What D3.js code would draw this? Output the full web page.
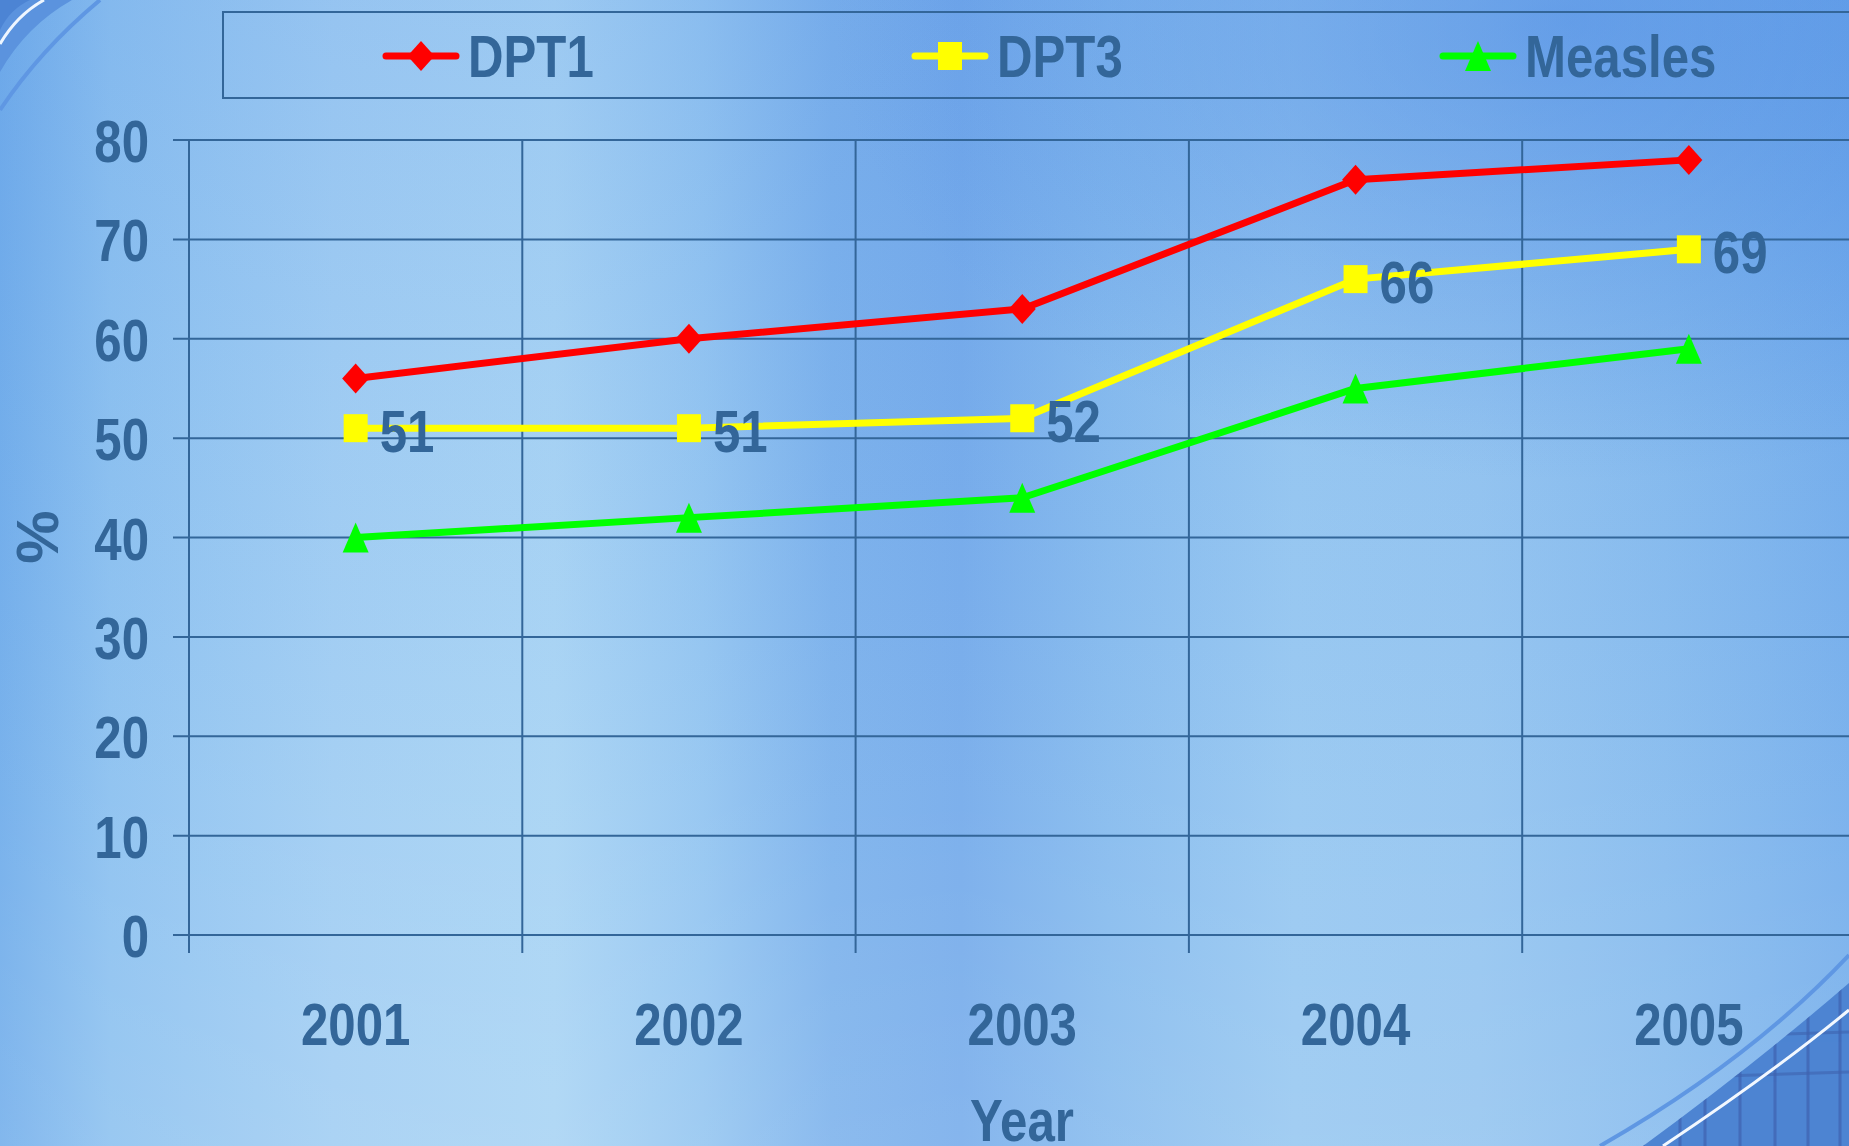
<!DOCTYPE html>
<html>
<head>
<meta charset="utf-8">
<script src="https://cdn.jsdelivr.net/npm/d3@7"></script>
<style>
html,body{margin:0;padding:0;overflow:hidden;background:#8fc2f0;}
svg text{font-family:"Liberation Sans Narrow","Arial Narrow","Liberation Sans",Arial,sans-serif;font-weight:bold;fill:#336699;}
</style>
</head>
<body>
<svg id="chart" width="1849" height="1146"></svg>
<script>
const years = ["2001","2002","2003","2004","2005"];
const dpt1 = [56, 60, 63, 76, 78];
const dpt3 = [51, 51, 52, 66, 69];
const measles = [40, 42, 44, 55, 59];
const yTicks = [0,10,20,30,40,50,60,70,80];
const seriesNames = ["DPT1","DPT3","Measles"];
const seriesColors = ["#ff0000","#ffff00","#00ff00"];
const seriesData = [dpt1, dpt3, measles];
const seriesShapes = ["diamond","square","triangle"];

const W = 1849, H = 1146;
const SX = 0.82; // horizontal condensing to mimic a narrow bold face
const svg = d3.select("#chart");
const defs = svg.append("defs");

// Background
const bg = defs.append("linearGradient").attr("id","bgH").attr("x1","0").attr("x2","1").attr("y1","0").attr("y2","0");
[[0,"#74afeb"],[0.06,"#8ec2f0"],[0.18,"#a2cef3"],[0.3,"#a9d4f4"],[0.38,"#95c6f1"],[0.45,"#7eb3ec"],[0.52,"#78adeb"],[0.6,"#88bcee"],[0.7,"#98c8f1"],[0.8,"#95c5f0"],[0.9,"#88bcee"],[1,"#78b0ec"]]
  .forEach(s=>bg.append("stop").attr("offset",s[0]).attr("stop-color",s[1]));
const bgV = defs.append("linearGradient").attr("id","bgV").attr("x1","0").attr("x2","0").attr("y1","0").attr("y2","1");
[[0,"rgba(40,105,220,0.10)"],[0.35,"rgba(40,105,220,0.03)"],[0.7,"rgba(255,255,255,0.04)"],[1,"rgba(255,255,255,0.10)"]]
  .forEach(s=>bgV.append("stop").attr("offset",s[0]).attr("stop-color",s[1]));
const rad = defs.append("radialGradient").attr("id","bgR").attr("cx","0.85").attr("cy","0.02").attr("r","0.4");
rad.append("stop").attr("offset",0).attr("stop-color","rgba(60,125,225,0.45)");
rad.append("stop").attr("offset",1).attr("stop-color","rgba(60,125,225,0)");
svg.append("rect").attr("width",W).attr("height",H).attr("fill","url(#bgH)");
svg.append("rect").attr("width",W).attr("height",H).attr("fill","url(#bgV)");
svg.append("rect").attr("width",W).attr("height",H).attr("fill","url(#bgR)");

// Decorations: top-left corner
svg.append("path").attr("d","M0,72 Q26,26 72,0 L0,0 Z").attr("fill","#5b93de");
svg.append("path").attr("d","M0,30 Q10,9 30,0 L0,0 Z").attr("fill","#4c84d4");
svg.append("path").attr("d","M0,44 Q17,15 44,0").attr("fill","none").attr("stroke","#eef6ff").attr("stroke-width",3);
svg.append("path").attr("d","M0,110 Q40,50 100,0").attr("fill","none").attr("stroke","#5f97e3").attr("stroke-width",4);

// Decorations: bottom-right corner
const brRegion = "M1643,1146 Q1760,1060 1849,983 L1849,1146 Z";
svg.append("path").attr("d",brRegion).attr("fill","#4d84d2");
const clip = defs.append("clipPath").attr("id","brClip");
clip.append("path").attr("d",brRegion);
const gridG = svg.append("g").attr("clip-path","url(#brClip)");
[1643,1680,1705,1740,1775,1808,1840].forEach(x=>{
  gridG.append("line").attr("x1",x).attr("x2",x).attr("y1",950).attr("y2",1146).attr("stroke","#3f63b0").attr("stroke-width",3).attr("opacity",0.7);
});
[1080,1040].forEach(y=>{
  gridG.append("line").attr("x1",1600).attr("x2",1849).attr("y1",y).attr("y2",y-8).attr("stroke","#3f63b0").attr("stroke-width",3).attr("opacity",0.6);
});
svg.append("path").attr("d","M1663,1146 Q1770,1075 1849,1010").attr("fill","none").attr("stroke","#f2f8ff").attr("stroke-width",3);
svg.append("path").attr("d","M1600,1146 Q1750,1060 1849,955").attr("fill","none").attr("stroke","#5f97e3").attr("stroke-width",4);

// Scales
const x = d3.scaleBand().domain(years).range([189, 189 + 5*333.3]);
const y = d3.scaleLinear().domain([0,80]).range([935,140]);
const col = "#336699";

// condensed text helper
function narrow(sel){
  sel.each(function(){
    const t = d3.select(this);
    const tx = +(t.attr("x")||0), ty = +(t.attr("y")||0);
    const prev = t.attr("transform") || "";
    t.attr("x",0).attr("y",0).attr("transform",`${prev} translate(${tx},${ty}) scale(${SX},1)`);
  });
}

// Gridlines
const grid = svg.append("g");
grid.selectAll(".hg").data(yTicks).join("line")
  .attr("x1",173).attr("x2",W+10).attr("y1",d=>y(d)).attr("y2",d=>y(d))
  .attr("stroke",col).attr("stroke-width",2);
const bounds = years.map(d=>x(d)).concat([x(years[4])+x.bandwidth()]);
grid.selectAll(".vg").data(bounds).join("line")
  .attr("x1",d=>d).attr("x2",d=>d).attr("y1",y(80)).attr("y2",953)
  .attr("stroke",col).attr("stroke-width",2);

// Axes with D3
const yAxis = d3.axisLeft(y).tickValues(yTicks).tickSize(0).tickPadding(40);
const gy = svg.append("g").attr("transform","translate(189,0)").call(yAxis);
gy.select(".domain").remove();
gy.selectAll("text").attr("font-size",60).attr("dy","0.36em").attr("y",0).style("fill",col).call(narrow);

const xAxis = d3.axisBottom(x).tickSize(0).tickPadding(0);
const gx = svg.append("g").attr("transform","translate(0,935)").call(xAxis);
gx.select(".domain").remove();
gx.selectAll("text").attr("font-size",60).attr("dy",null).attr("y",110).style("fill",col).call(narrow);

// Axis titles
svg.append("text").attr("x",1022).attr("y",1141).attr("text-anchor","middle").attr("font-size",60).text("Year").call(narrow);
svg.append("text").attr("transform","translate(58,537) rotate(-90)").attr("text-anchor","middle").attr("font-size",60).text("%");

// Marker drawing
function marker(g, shape, color, cx, cy){
  if(shape==="diamond"){
    g.append("path").attr("d",`M${cx},${cy-15} L${cx+13.5},${cy} L${cx},${cy+15} L${cx-13.5},${cy} Z`).attr("fill",color);
  } else if(shape==="square"){
    g.append("rect").attr("x",cx-12).attr("y",cy-14).attr("width",24).attr("height",28).attr("fill",color);
  } else {
    g.append("path").attr("d",`M${cx},${cy-15} L${cx+13},${cy+15} L${cx-13},${cy+15} Z`).attr("fill",color);
  }
}

// Series
const line = d3.line().x((d,i)=>x(years[i])+x.bandwidth()/2).y(d=>y(d));
seriesData.forEach((data,si)=>{
  const g = svg.append("g");
  g.append("path").datum(data).attr("d",line).attr("fill","none")
    .attr("stroke",seriesColors[si]).attr("stroke-width",7).attr("stroke-linejoin","round");
  data.forEach((v,i)=>marker(g, seriesShapes[si], seriesColors[si], x(years[i])+x.bandwidth()/2, y(v)));
  if(si===1){
    data.forEach((v,i)=>{
      g.append("text").attr("x",x(years[i])+x.bandwidth()/2+24).attr("y",y(v)+24)
        .attr("font-size",60).text(v).call(narrow);
    });
  }
});

// Legend
const lg = svg.append("g");
lg.append("rect").attr("x",223).attr("y",12).attr("width",1700).attr("height",86)
  .attr("fill","none").attr("stroke",col).attr("stroke-width",2);
const legX = [386, 915, 1443];
seriesNames.forEach((n,i)=>{
  const lx = legX[i], ly = 56;
  lg.append("line").attr("x1",lx).attr("x2",lx+70).attr("y1",ly).attr("y2",ly)
    .attr("stroke",seriesColors[i]).attr("stroke-width",7).attr("stroke-linecap","round");
  marker(lg, seriesShapes[i], seriesColors[i], lx+35, ly);
  lg.append("text").attr("x",lx+82).attr("y",77).attr("font-size",60).text(n).call(narrow);
});
</script>
</body>
</html>
